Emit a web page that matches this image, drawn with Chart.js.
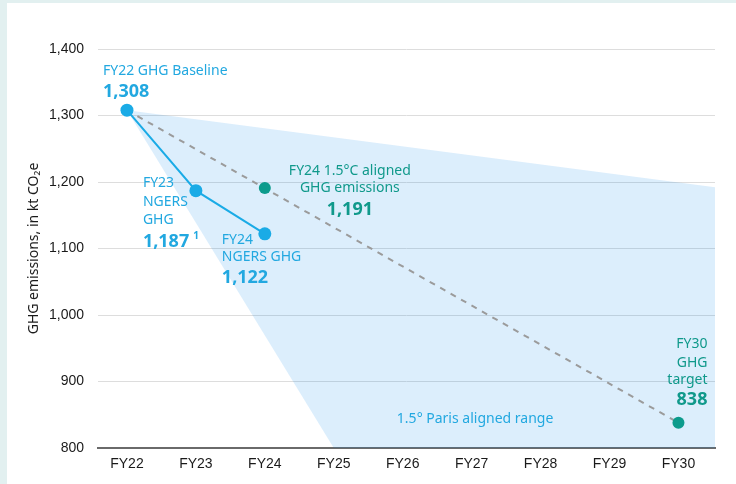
<!DOCTYPE html>
<html><head><meta charset="utf-8">
<script src="https://cdn.jsdelivr.net/npm/chart.js@4.4.1/dist/chart.umd.min.js"></script>
<style>
html,body{margin:0;padding:0;background:#E2F0F0;width:736px;height:484px;overflow:hidden}
#wrap{position:absolute;left:7px;top:3px;width:729px;height:481px;background:#fff}
canvas{display:block}
</style></head><body>
<div id="wrap"><canvas id="c" width="729" height="481"></canvas></div>
<script>
// ---- data ----
const categories = ['FY22','FY23','FY24','FY25','FY26','FY27','FY28','FY29','FY30'];
const ngersCats = ['FY22','FY23','FY24'];
const ngersValues = [1308, 1187, 1122];
const alignedCats = ['FY24','FY30'];
const alignedValues = [1191, 838];
const trajectoryCats = ['FY22','FY30'];
const trajectoryValues = [1308, 838];
const rangeStartValue = 1308;      // FY22 baseline
const rangeUpperEdgeValue = 1192;  // upper bound at right edge of plot
const rangeLowerCat = 'FY25';      // lower bound reaches 800 here
const yTickValues = [800, 900, 1000, 1100, 1200, 1300, 1400];

// ---- layout constants ----
const xMin = -0.42, xMax = 8.53;
const BLUE = '#1AABE6', TEAL = '#0C9B8C', BLUE_TXT = '#22A8E0', TEAL_TXT = '#10998B';
const ix = c => categories.indexOf(c);
const yMin = yTickValues[0], yMax = yTickValues[yTickValues.length-1];

const labels = [
  {cat:'FY22', value:1308, dx:-24, lines:[['FY22 GHG Baseline',-39,false],['1,308',-18,true]], color:BLUE_TXT, align:'left'},
  {cat:'FY23', value:1187, dx:-53, lines:[['FY23',-8,false],['NGERS',11,false],['GHG',29,false],['1,187',51,true]], color:BLUE_TXT, align:'left', sup:'1'},
  {cat:'FY24', value:1122, dx:-43, lines:[['FY24',6,false],['NGERS GHG',23,false],['1,122',44,true]], color:BLUE_TXT, align:'left'},
  {cat:'FY24', value:1191, dx:85, lines:[['FY24 1.5°C aligned',-17,false],['GHG emissions',0,false],['1,191',22,true]], color:TEAL_TXT, align:'center'},
  {cat:'FY30', value:838, dx:29, lines:[['FY30',-79,false],['GHG',-60,false],['target',-43,false],['838',-23,true]], color:TEAL_TXT, align:'right'},
  {x:5.05, value:844, dx:0, lines:[['1.5° Paris aligned range',0,false]], color:BLUE_TXT, align:'center'}
];

const textPlugin = {
  id:'texts',
  afterDatasetsDraw(chart){
    const {ctx, scales:{x, y}} = chart;
    ctx.save();
    ctx.textBaseline = 'middle';
    labels.forEach(l => {
      const px = x.getPixelForValue(l.x !== undefined ? l.x : ix(l.cat)) + l.dx;
      const py = y.getPixelForValue(l.value);
      ctx.fillStyle = l.color;
      ctx.textAlign = l.align;
      l.lines.forEach(([t, dy, bold]) => {
        ctx.font = bold ? 'bold 18px "Noto Sans"' : '14px "Noto Sans"';
        ctx.fillText(t, px, py + dy);
        if (bold && l.sup) {
          const w = ctx.measureText(t).width;
          ctx.font = 'bold 10px "Noto Sans"';
          ctx.textAlign = 'left';
          ctx.fillText(l.sup, px + w + 4, py + dy - 5);
          ctx.textAlign = l.align;
        }
      });
    });
    ctx.restore();
  }
};

new Chart(document.getElementById('c'), {
  type:'line',
  data:{
    datasets:[
      { // NGERS line
        data: ngersCats.map((c,i)=>({x:ix(c), y:ngersValues[i]})),
        borderColor:BLUE, backgroundColor:BLUE, borderWidth:2,
        pointRadius:6.5, pointBorderWidth:0, fill:false, order:1
      },
      { // aligned points
        data: alignedCats.map((c,i)=>({x:ix(c), y:alignedValues[i]})),
        showLine:false, backgroundColor:TEAL, borderColor:TEAL,
        pointRadius:6, pointBorderWidth:0, fill:false, order:0
      },
      { // trajectory dashed
        data: trajectoryCats.map((c,i)=>({x:ix(c), y:trajectoryValues[i]})),
        borderColor:'#9B9B9B', borderWidth:2, borderDash:[6,6],
        pointRadius:0, fill:false, order:2
      },
      { // range upper
        data:[{x:0, y:rangeStartValue},{x:xMax, y:rangeUpperEdgeValue}],
        borderWidth:0, borderColor:'rgba(0,0,0,0)', pointRadius:0,
        fill:'+1', backgroundColor:'rgba(5,134,234,0.14)', order:5
      },
      { // range lower
        data:[{x:0, y:rangeStartValue},{x:ix(rangeLowerCat), y:yMin},{x:xMax, y:yMin}],
        borderWidth:0, borderColor:'rgba(0,0,0,0)', pointRadius:0, fill:false, order:6
      }
    ]
  },
  options:{
    responsive:false, animation:false,
    layout:{padding:{left:0, right:21, top:46, bottom:0}},
    plugins:{legend:{display:false}, tooltip:{enabled:false}},
    scales:{
      x:{
        type:'linear', min:xMin, max:xMax,
        afterBuildTicks: s => { s.ticks = categories.map((c,i)=>({value:i})); },
        afterFit: s => { s.height = 36; },
        grid:{display:false, drawTicks:false},
        border:{display:true, color:'#6A6A6A', width:2},
        ticks:{padding:8, color:'#1a1a1a', font:{family:'"Liberation Sans"', size:14},
          callback: v => categories[v] ?? ''}
      },
      y:{
        min:yMin, max:yMax,
        afterBuildTicks: s => { s.ticks = yTickValues.map(v=>({value:v})); },
        afterFit: s => { s.width = 91; },
        grid:{color:'#DDDDDD', lineWidth:1, drawTicks:false},
        border:{display:false},
        ticks:{padding:14, color:'#1a1a1a', font:{family:'"Liberation Sans"', size:14},
          callback: v => v.toLocaleString('en-US')},
        title:{display:true, text:'GHG emissions, in kt CO₂e', color:'#1a1a1a',
          font:{family:'"Noto Sans"', size:14}, padding:{top:19, bottom:0}}
      }
    }
  },
  plugins:[textPlugin]
});
</script>
</body></html>
